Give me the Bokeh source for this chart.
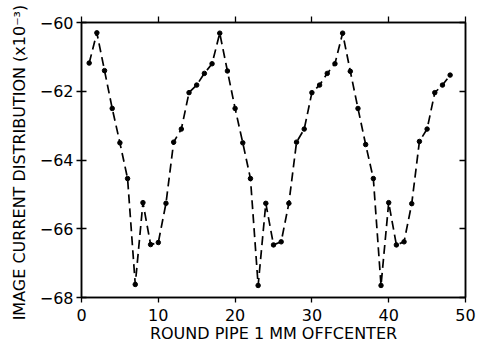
from bokeh.plotting import figure
from bokeh.models import LinearAxis, FixedTicker, Range1d, CustomLabelingPolicy
from bokeh.embed import file_html
from bokeh.resources import INLINE

x_vals = list(range(1, 49))
y_vals = [-61.18, -60.30, -61.40, -62.50, -63.50, -64.54, -67.62, -65.24,
          -66.46, -66.40, -65.26, -63.48, -63.10, -62.04, -61.82, -61.48,
          -61.20, -60.31, -61.41, -62.50, -63.50, -64.54, -67.65, -65.26,
          -66.47, -66.38, -65.26, -63.48, -63.10, -62.04, -61.82, -61.48,
          -61.20, -60.31, -61.42, -62.50, -63.55, -64.54, -67.65, -65.24,
          -66.47, -66.38, -65.27, -63.46, -63.10, -62.04, -61.82, -61.53]
x_ticks = [0, 10, 20, 30, 40, 50]
y_ticks = [-68, -66, -64, -62, -60]
x_label = "ROUND PIPE 1 MM OFFCENTER"
y_label = "IMAGE CURRENT DISTRIBUTION  (x10\u207b\u00b3)"

FONT = "DejaVu Sans"

p = figure(width=480, height=345, output_backend="svg", toolbar_location=None,
           x_range=Range1d(0, 50), y_range=Range1d(-68, -60),
           min_border_left=81, min_border_right=15, min_border_top=22,
           min_border_bottom=46)
p.xgrid.visible = False
p.ygrid.visible = False
p.outline_line_color = "black"
p.outline_line_width = 1.5
p.background_fill_color = "white"
p.border_fill_color = "white"

p.line(x_vals, y_vals, line_color="black", line_width=1.7, line_dash="9 5")
p.scatter(x_vals, y_vals, size=4.5, color="black")

for ax in (p.xaxis[0], p.yaxis[0]):
    ax.axis_line_width = 1.5
    ax.major_tick_line_width = 1.3
    ax.minor_tick_line_color = None
    ax.major_label_text_font = FONT
    ax.major_label_text_font_size = "16px"
    ax.major_label_text_color = "black"
    ax.axis_label_text_font = FONT
    ax.axis_label_text_font_style = "normal"
    ax.axis_label_text_font_size = "16px"
    ax.axis_label_text_color = "black"

p.xaxis[0].ticker = FixedTicker(ticks=x_ticks)
p.xaxis[0].major_tick_in = 0
p.xaxis[0].major_tick_out = 5
p.xaxis[0].major_label_standoff = 6
p.xaxis[0].axis_label = x_label
p.xaxis[0].axis_label_standoff = 0

p.yaxis[0].ticker = FixedTicker(ticks=y_ticks)
p.yaxis[0].major_tick_in = 5
p.yaxis[0].major_tick_out = 5
p.yaxis[0].major_label_standoff = 3
p.yaxis[0].axis_label = y_label
p.yaxis[0].axis_label_standoff = 8

no_labels = "return new Set()"
top = LinearAxis(ticker=FixedTicker(ticks=x_ticks), major_tick_in=0, major_tick_out=6,
                 axis_line_width=1.5, major_tick_line_width=1.3,
                 minor_tick_line_color=None,
                 major_label_policy=CustomLabelingPolicy(code=no_labels),
                 major_label_text_font_size="0px",
                 major_label_standoff=0)
p.add_layout(top, "above")
right = LinearAxis(ticker=FixedTicker(ticks=y_ticks), major_tick_in=6, major_tick_out=0,
                   axis_line_width=1.5, major_tick_line_width=1.3,
                   minor_tick_line_color=None,
                   major_label_policy=CustomLabelingPolicy(code=no_labels),
                   major_label_text_font_size="0px",
                   major_label_standoff=0)
p.add_layout(right, "right")

open("out.html", "w").write(file_html(p, INLINE))
